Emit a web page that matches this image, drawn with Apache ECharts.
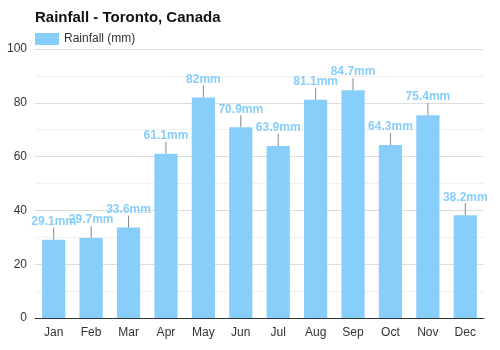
<!DOCTYPE html>
<html><head><meta charset="utf-8">
<script src="https://cdn.jsdelivr.net/npm/echarts@6/dist/echarts.min.js"></script>
<style>html,body{margin:0;padding:0;background:#fff}#c{width:500px;height:350px}</style>
</head><body><div id="c"></div>
<script>
var categories = ['Jan','Feb','Mar','Apr','May','Jun','Jul','Aug','Sep','Oct','Nov','Dec'];
var rainfall = [29.1, 29.7, 33.6, 61.1, 82, 70.9, 63.9, 81.1, 84.7, 64.3, 75.4, 38.2];
var yTicks = [0, 20, 40, 60, 80, 100];

var chart = echarts.init(document.getElementById('c'), null, {renderer: 'canvas'});
chart.setOption({
  animation: false,
  textStyle: {fontFamily: 'Liberation Sans, Arial, sans-serif'},
  title: {text: 'Rainfall - Toronto, Canada', left: 30, top: 5,
    textStyle: {fontSize: 15, fontWeight: 'bold', color: '#111'}},
  legend: {left: 30, top: 28, itemWidth: 24, itemHeight: 12, itemGap: 10, icon: 'rect',
    textStyle: {fontSize: 12, color: '#333'}, data: ['Rainfall (mm)']},
  grid: {left: 35, right: 16, top: 49, bottom: 32},
  xAxis: {type: 'category', data: categories,
    axisLine: {lineStyle: {color: '#333', width: 1}},
    axisTick: {show: false},
    axisLabel: {color: '#333', fontSize: 12, margin: 9}},
  yAxis: {type: 'value', min: yTicks[0], max: yTicks[yTicks.length-1], interval: 20,
    axisLabel: {color: '#333', fontSize: 12, margin: 8},
    splitLine: {lineStyle: {color: '#dddddd'}},
    minorTick: {show: false, splitNumber: 2},
    minorSplitLine: {show: true, lineStyle: {color: '#f0f0f0'}}},
  series: [{
    name: 'Rainfall (mm)', type: 'bar', data: rainfall, barWidth: '62%',
    itemStyle: {color: '#87CEFA'},
    label: {show: true, position: 'top', distance: 4, color: '#87CEFA', fontWeight: 'bold', fontSize: 12,
      formatter: function(p){ return p.value + 'mm'; }},
    labelLayout: {dy: -8},
    labelLine: {show: true, lineStyle: {color: '#888', width: 1}}
  }]
});
</script></body></html>
